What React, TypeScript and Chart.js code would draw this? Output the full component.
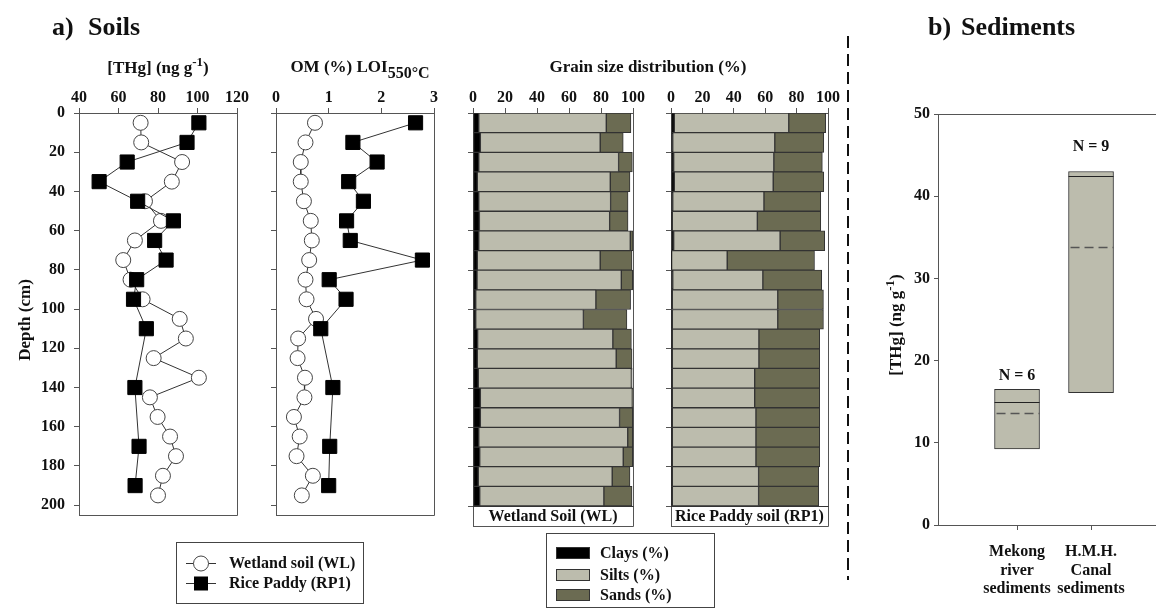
import React, { useEffect, useRef } from 'react';
import { Chart, registerables } from 'chart.js';
Chart.register(...registerables);

const W = 1156;
const H = 610;
const SERIF = "'Liberation Serif', 'Times New Roman', Times, serif";
const INK = '#111111';
const AXIS = '#555555';
const EDGE = '#333333';
const CLAY = '#000000';
const SILT = '#bcbcad';
const SAND = '#6b6b52';

// ---------- a) Soils : [THg] ----------
const thgTicks = [40, 60, 80, 100, 120];
const depthTicks = [0, 20, 40, 60, 80, 100, 120, 140, 160, 180, 200];
const wlDepths = [5, 15, 25, 35, 45, 55, 65, 75, 85, 95, 105, 115, 125, 135, 145, 155, 165, 175, 185, 195];
const wlTHg = [71.2, 71.5, 92.2, 87.0, 73.4, 81.5, 68.3, 62.4, 66.1, 72.2, 91.0, 94.1, 77.8, 100.7, 75.9, 79.8, 86.1, 89.1, 82.5, 80.0];
const rpDepths = [5, 15, 25, 35, 45, 55, 65, 75, 85, 95, 110, 140, 170, 190];
const rpTHg = [100.7, 94.7, 64.4, 50.2, 69.7, 87.8, 78.3, 84.1, 69.2, 67.6, 74.1, 68.3, 70.4, 68.4];

// ---------- OM (%) LOI 550°C ----------
const omTicks = [0, 1, 2, 3];
const wlOM = [0.74, 0.56, 0.47, 0.47, 0.53, 0.66, 0.68, 0.63, 0.56, 0.58, 0.76, 0.42, 0.41, 0.55, 0.54, 0.34, 0.45, 0.39, 0.7, 0.49];
const rpOM = [2.65, 1.46, 1.92, 1.38, 1.66, 1.34, 1.41, 2.78, 1.01, 1.33, 0.85, 1.08, 1.02, 1.0];

// ---------- Grain size distribution (%) ----------
const pctTicks = [0, 20, 40, 60, 80, 100];
const grainDepths = [5, 15, 25, 35, 45, 55, 65, 75, 85, 95, 105, 115, 125, 135, 145, 155, 165, 175, 185, 195];
const wlClays = [3.6, 4.6, 3.6, 2.7, 3.6, 4.0, 3.6, 2.7, 2.5, 1.7, 1.7, 2.9, 2.7, 3.3, 4.6, 4.6, 3.6, 4.2, 3.3, 4.2];
const wlSilts = [79.7, 74.9, 87.4, 83.1, 82.4, 81.4, 94.7, 76.8, 90.2, 75.1, 67.3, 84.5, 86.8, 95.7, 95.0, 87.0, 93.1, 89.7, 83.7, 77.6];
const wlSands = [15.4, 14.4, 8.6, 12.3, 10.9, 11.5, 1.7, 19.9, 7.1, 21.7, 27.2, 11.6, 9.9, 0.5, 0.3, 8.2, 3.1, 5.9, 11.1, 17.6];
const rpClays = [2.1, 1.1, 1.7, 2.1, 1.1, 0.8, 1.7, 0.4, 1.1, 0.8, 0.8, 0.8, 0.8, 0.8, 0.8, 0.8, 0.8, 0.8, 0.8, 0.8];
const rpSilts = [72.9, 65.0, 63.8, 63.0, 58.1, 54.2, 67.8, 35.4, 57.4, 67.2, 67.2, 55.2, 55.2, 52.5, 52.5, 53.3, 53.3, 53.3, 55.0, 55.0];
const rpSands = [23.5, 31.2, 30.9, 32.2, 36.2, 40.4, 28.4, 55.6, 37.5, 29.1, 29.1, 38.7, 38.7, 41.4, 41.4, 40.6, 40.6, 40.6, 38.3, 38.3];

// ---------- b) Sediments ----------
const sedCategories = [['Mekong', 'river', 'sediments'], ['H.M.H.', 'Canal', 'sediments']];
const sedPositions = [1, 2];
const sedLow = [9.25, 16.1];
const sedHigh = [16.5, 43.0];
const sedMedian = [15.0, 42.4];
const sedMean = [13.66, 33.85];
const sedN = [6, 9];
const sedNLabelAt = [18.1, 46.0];
const sedTicks = [0, 10, 20, 30, 40, 50];

type Part = { t: string; size: number; dy?: number };

const font = (size: number) => `bold ${size}px ${SERIF}`;

function drawRich(ctx: CanvasRenderingContext2D, parts: Part[], x: number, y: number, rotate = false, align: 'center' | 'left' = 'center') {
  ctx.save();
  ctx.translate(x, y);
  if (rotate) ctx.rotate(-Math.PI / 2);
  ctx.fillStyle = INK;
  ctx.textBaseline = 'alphabetic';
  ctx.textAlign = 'left';
  let total = 0;
  for (const p of parts) {
    ctx.font = font(p.size);
    total += ctx.measureText(p.t).width;
  }
  let cx = align === 'center' ? -total / 2 : 0;
  for (const p of parts) {
    ctx.font = font(p.size);
    ctx.fillText(p.t, cx, p.dy || 0);
    cx += ctx.measureText(p.t).width;
  }
  ctx.restore();
}

function line(ctx: CanvasRenderingContext2D, x1: number, y1: number, x2: number, y2: number, color = AXIS, w = 1) {
  ctx.save();
  ctx.strokeStyle = color;
  ctx.lineWidth = w;
  ctx.beginPath();
  ctx.moveTo(x1, y1);
  ctx.lineTo(x2, y2);
  ctx.stroke();
  ctx.restore();
}

const tickFont = { family: SERIF, size: 16, weight: 'bold' as const, lineHeight: 1.15 };
const gridOpts = (len = 5) => ({ drawOnChartArea: false, drawTicks: true, tickLength: len, color: AXIS, lineWidth: 1, offset: false });
const borderOpts = { display: true, color: AXIS, width: 1 };

function setTicks(values: number[]) {
  return (s: any) => {
    s.ticks = values.map((v) => ({ value: v }));
  };
}

function frameRB(ctx: CanvasRenderingContext2D, a: any, bottom?: number) {
  const b = bottom ?? a.bottom;
  line(ctx, a.right + 0.5, a.top, a.right + 0.5, b + 0.5);
  line(ctx, a.left, b + 0.5, a.right + 0.5, b + 0.5);
}

function depthPlot(
  xMin: number, xMax: number, xTicks: number[], left: number, right: number, yLabels: boolean,
  wlX: number[], rpX: number[], decor: (ctx: CanvasRenderingContext2D, chart: any) => void
): any {
  const yW = yLabels ? 69 : 10;
  return {
    type: 'line',
    data: {
      datasets: [
        {
          label: 'Rice Paddy (RP1)',
          data: rpDepths.map((d, i) => ({ x: rpX[i], y: d })),
          borderColor: EDGE, borderWidth: 1,
          pointStyle: 'rect', pointRadius: 10,
          pointBackgroundColor: '#000', pointBorderColor: '#000', pointBorderWidth: 1,
          order: 0, tension: 0, fill: false,
        },
        {
          label: 'Wetland soil (WL)',
          data: wlDepths.map((d, i) => ({ x: wlX[i], y: d })),
          borderColor: EDGE, borderWidth: 1,
          pointStyle: 'circle', pointRadius: 7.5,
          pointBackgroundColor: '#fff', pointBorderColor: '#444', pointBorderWidth: 1,
          order: 1, tension: 0, fill: false,
        },
      ],
    },
    options: {
      responsive: false, animation: false, devicePixelRatio: 1,
      layout: { padding: { left: left - yW, top: 0, right: W - right, bottom: H - 515 } },
      plugins: { legend: { display: false }, tooltip: { enabled: false } },
      scales: {
        x: {
          type: 'linear', position: 'top', min: xMin, max: xMax, offset: false,
          afterBuildTicks: setTicks(xTicks),
          afterFit: (s: any) => { s.height = 113; },
          ticks: { font: tickFont, color: INK, padding: 1 },
          grid: gridOpts(), border: borderOpts,
        },
        y: {
          type: 'linear', reverse: true, min: 0, max: 205, offset: false,
          afterBuildTicks: setTicks(depthTicks),
          afterFit: (s: any) => { s.width = yW; },
          ticks: { display: yLabels, font: tickFont, color: INK, padding: 9 },
          grid: gridOpts(), border: borderOpts,
        },
      },
    },
    plugins: [{ id: 'decor' + left, afterDraw: (chart: any) => { frameRB(chart.ctx, chart.chartArea); decor(chart.ctx, chart); } }],
  };
}

function grainPlot(clays: number[], silts: number[], sands: number[], left: number, right: number, caption: string,
  decor: (ctx: CanvasRenderingContext2D, chart: any) => void): any {
  const mk = (label: string, vals: number[], color: string) => ({
    label,
    data: grainDepths.map((d, i) => ({ x: vals[i], y: d })),
    backgroundColor: color, borderColor: EDGE, borderWidth: 1, borderSkipped: false,
    barPercentage: 1, categoryPercentage: 1,
  });
  return {
    type: 'bar',
    data: { datasets: [mk('Clays (%)', clays, CLAY), mk('Silts (%)', silts, SILT), mk('Sands (%)', sands, SAND)] },
    options: {
      indexAxis: 'y',
      responsive: false, animation: false, devicePixelRatio: 1,
      layout: { padding: { left: left - 10, top: 0, right: W - right, bottom: H - 506 } },
      plugins: { legend: { display: false }, tooltip: { enabled: false } },
      scales: {
        x: {
          type: 'linear', position: 'top', min: 0, max: 100, stacked: true, offset: false,
          afterBuildTicks: setTicks(pctTicks),
          afterFit: (s: any) => { s.height = 113; },
          ticks: { font: tickFont, color: INK, padding: 1 },
          grid: gridOpts(), border: borderOpts,
        },
        y: {
          type: 'linear', reverse: true, min: 0, max: 200, stacked: true, offset: false,
          afterBuildTicks: setTicks(depthTicks),
          afterFit: (s: any) => { s.width = 10; },
          ticks: { display: false },
          grid: gridOpts(), border: borderOpts,
        },
      },
    },
    plugins: [{
      id: 'grain' + left,
      afterDraw: (chart: any) => {
        const ctx = chart.ctx as CanvasRenderingContext2D;
        const a = chart.chartArea;
        const bottom = a.bottom + 20;
        line(ctx, a.right + 0.5, a.top, a.right + 0.5, bottom + 0.5);
        line(ctx, a.left + 0.5, a.bottom, a.left + 0.5, bottom + 0.5);
        line(ctx, a.left, a.bottom + 0.5, a.right + 0.5, a.bottom + 0.5, EDGE);
        line(ctx, a.left, bottom + 0.5, a.right + 0.5, bottom + 0.5);
        ctx.save();
        ctx.font = font(16);
        ctx.fillStyle = INK;
        ctx.textAlign = 'center';
        ctx.textBaseline = 'alphabetic';
        ctx.fillText(caption, (a.left + a.right) / 2, a.bottom + 15);
        ctx.restore();
        decor(ctx, chart);
      },
    }],
  };
}

function sedPlot(): any {
  return {
    type: 'bar',
    data: {
      datasets: [{
        label: '[THg]',
        data: sedPositions.map((p, i) => ({ x: p, y: [sedLow[i], sedHigh[i]] })),
        backgroundColor: SILT, borderColor: EDGE, borderWidth: 1, borderSkipped: false,
        barThickness: 45,
      }],
    },
    options: {
      responsive: false, animation: false, devicePixelRatio: 1,
      layout: { padding: { left: 938 - 60, top: 114, right: 0, bottom: 0 } },
      plugins: { legend: { display: false }, tooltip: { enabled: false } },
      scales: {
        x: {
          type: 'linear', position: 'bottom', min: -0.068, max: 2.878, offset: false,
          afterBuildTicks: setTicks(sedPositions),
          afterFit: (s: any) => { s.height = H - 525; },
          ticks: {
            font: tickFont, color: INK, padding: 13,
            callback: (v: any) => {
              const i = sedPositions.indexOf(Number(v));
              return i >= 0 ? sedCategories[i] : '';
            },
          },
          grid: gridOpts(5), border: borderOpts,
        },
        y: {
          type: 'linear', min: 0, max: 50,
          afterBuildTicks: setTicks(sedTicks),
          afterFit: (s: any) => { s.width = 60; },
          ticks: { font: tickFont, color: INK, padding: 4 },
          grid: gridOpts(4), border: borderOpts,
        },
      },
    },
    plugins: [{
      id: 'sedDecor',
      afterDraw: (chart: any) => {
        const ctx = chart.ctx as CanvasRenderingContext2D;
        const a = chart.chartArea;
        const ys = chart.scales.y;
        line(ctx, a.left, a.top + 0.5, a.right, a.top + 0.5);
        const meta = chart.getDatasetMeta(0);
        meta.data.forEach((el: any, i: number) => {
          const x1 = el.x - el.width / 2;
          const x2 = el.x + el.width / 2;
          const ym = Math.round(ys.getPixelForValue(sedMedian[i])) + 0.5;
          line(ctx, x1, ym, x2, ym, '#222', 1.2);
          const ya = Math.round(ys.getPixelForValue(sedMean[i])) + 0.5;
          ctx.save();
          ctx.setLineDash([9, 5]);
          line(ctx, x1 + 2, ya, x2, ya, '#555', 1.5);
          ctx.restore();
          ctx.save();
          ctx.font = font(16);
          ctx.fillStyle = INK;
          ctx.textAlign = 'center';
          ctx.textBaseline = 'middle';
          ctx.fillText('N = ' + sedN[i], el.x, ys.getPixelForValue(sedNLabelAt[i]));
          ctx.restore();
        });
        // divider
        ctx.save();
        ctx.setLineDash([12, 6]);
        line(ctx, 848, 36, 848, 580, '#111', 2);
        ctx.restore();
        // panel title
        drawRich(ctx, [{ t: 'b)', size: 26 }], 928, 35, false, 'left');
        drawRich(ctx, [{ t: 'Sediments', size: 26 }], 961, 35, false, 'left');
        // y title
        drawRich(ctx, [{ t: '[THg] (ng g', size: 17 }, { t: '-1', size: 13, dy: -7 }, { t: ')', size: 17 }], 901, 325, true);
      },
    }],
  };
}

export default function App() {
  const r1 = useRef<HTMLCanvasElement>(null);
  const r2 = useRef<HTMLCanvasElement>(null);
  const r3 = useRef<HTMLCanvasElement>(null);
  const r4 = useRef<HTMLCanvasElement>(null);
  const r5 = useRef<HTMLCanvasElement>(null);

  useEffect(() => {
    const cfgA = depthPlot(40, 120, thgTicks, 79, 237, true, wlTHg, rpTHg, (ctx) => {
      drawRich(ctx, [{ t: 'a)', size: 26 }], 52, 35, false, 'left');
      drawRich(ctx, [{ t: 'Soils', size: 26 }], 88, 35, false, 'left');
      drawRich(ctx, [{ t: '[THg] (ng g', size: 17 }, { t: '-1', size: 13, dy: -7 }, { t: ')', size: 17 }], 158, 73);
      drawRich(ctx, [{ t: 'Depth (cm)', size: 17 }], 30, 320, true);
      // legend 1
      ctx.save();
      ctx.strokeStyle = '#444';
      ctx.lineWidth = 1;
      ctx.strokeRect(176.5, 542.5, 187, 61);
      line(ctx, 186, 563.5, 216, 563.5, EDGE);
      line(ctx, 186, 583.5, 216, 583.5, EDGE);
      ctx.beginPath();
      ctx.arc(201, 563.5, 7.5, 0, Math.PI * 2);
      ctx.fillStyle = '#fff';
      ctx.fill();
      ctx.strokeStyle = '#444';
      ctx.stroke();
      ctx.fillStyle = '#000';
      ctx.fillRect(194, 576.5, 14, 14);
      ctx.font = font(16);
      ctx.fillStyle = INK;
      ctx.textBaseline = 'middle';
      ctx.textAlign = 'left';
      ctx.fillText('Wetland soil (WL)', 229, 564);
      ctx.fillText('Rice Paddy (RP1)', 229, 584);
      ctx.restore();
    });
    const cfgB = depthPlot(0, 3, omTicks, 276, 434, false, wlOM, rpOM, (ctx) => {
      drawRich(ctx, [{ t: 'OM (%) LOI', size: 17 }, { t: '550°C', size: 16, dy: 6 }], 360, 72);
    });
    const cfgC = grainPlot(wlClays, wlSilts, wlSands, 473, 633, 'Wetland Soil (WL)', (ctx) => {
      drawRich(ctx, [{ t: 'Grain size distribution (%)', size: 17 }], 648, 72);
      // legend 2
      ctx.save();
      ctx.strokeStyle = '#444';
      ctx.lineWidth = 1;
      ctx.strokeRect(546.5, 533.5, 168, 74);
      const rows = [
        { label: 'Clays (%)', color: CLAY, y: 553 },
        { label: 'Silts (%)', color: SILT, y: 575 },
        { label: 'Sands (%)', color: SAND, y: 595 },
      ];
      for (const r of rows) {
        ctx.fillStyle = r.color;
        ctx.fillRect(556, r.y - 6, 34, 12);
        ctx.strokeStyle = EDGE;
        ctx.strokeRect(556.5, r.y - 5.5, 33, 11);
        ctx.font = font(16);
        ctx.fillStyle = INK;
        ctx.textBaseline = 'middle';
        ctx.textAlign = 'left';
        ctx.fillText(r.label, 600, r.y + 1);
      }
      ctx.restore();
    });
    const cfgD = grainPlot(rpClays, rpSilts, rpSands, 671, 828, 'Rice Paddy soil (RP1)', () => {});
    const cfgE = sedPlot();
    const refs = [r1, r2, r3, r4, r5];
    const cfgs = [cfgA, cfgB, cfgC, cfgD, cfgE];
    const charts = cfgs.map((cfg, i) => new Chart(refs[i].current as HTMLCanvasElement, cfg));
    return () => charts.forEach((c) => c.destroy());
  }, []);

  const cs: React.CSSProperties = { position: 'absolute', left: 0, top: 0, width: W, height: H, display: 'block' };
  return (
    <div style={{ position: 'absolute', left: 0, top: 0, width: W, height: H, background: '#fff', overflow: 'hidden' }}>
      <canvas ref={r1} width={W} height={H} style={cs} />
      <canvas ref={r2} width={W} height={H} style={cs} />
      <canvas ref={r3} width={W} height={H} style={cs} />
      <canvas ref={r4} width={W} height={H} style={cs} />
      <canvas ref={r5} width={W} height={H} style={cs} />
    </div>
  );
}
